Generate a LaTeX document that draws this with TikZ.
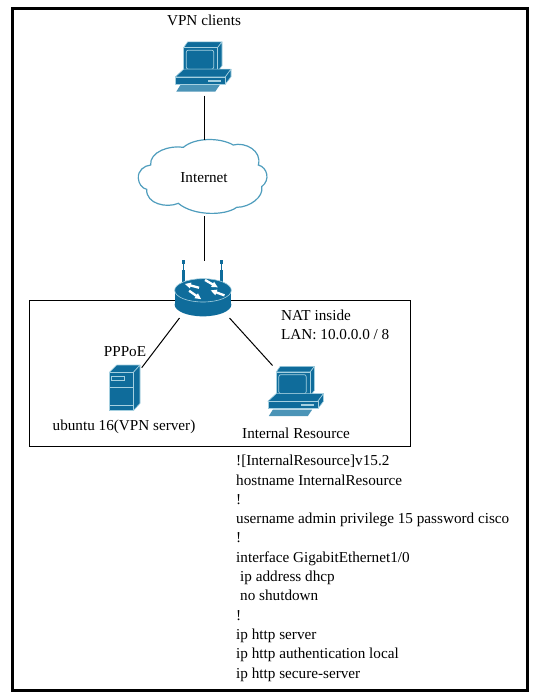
\documentclass[tikz,border=0pt]{standalone}
\usepackage{fontspec}
\setmainfont{Liberation Serif}
\definecolor{iconblue}{HTML}{0F6C9B}
\definecolor{iconlight}{HTML}{A5D0E0}
\definecolor{cloudline}{HTML}{4F9DBD}
\tikzset{
  iconbox/.style={inner sep=0pt,outer sep=0pt},
  lbl/.style={inner sep=0pt,font=\fontsize{15.2}{17}\selectfont},
  link/.style={black,line width=1pt},
  face/.style={fill=iconblue,draw=iconlight,line width=0.6pt,line join=round},
  computer/.pic={
    \begin{scope}[scale=1/3]
      \draw[face] (-58,-57)--(-46,-74)--(57,-74)--(44,-57)--cycle;
      \draw[face] (44,-57)--(57,-74)--(57,-2)--(44,15)--cycle;
      \draw[face] (-58,-57) rectangle (44,15);
      \draw[iconlight,line width=0.7pt,rounded corners=2pt] (-50,-49) rectangle (32,8);
      \draw[face] (-83,31)--(-58,8)--(84,8)--(67,31)--cycle;
      \draw[face] (67,31)--(84,8)--(84,31)--(67,53)--cycle;
      \draw[face] (-83,31) rectangle (67,53);
      \fill[iconlight] (15,40) rectangle (54,46);
      \fill[iconblue!60!iconlight] (-68,56)--(50,56)--(37,75)--(-80,75)--cycle;
    \end{scope}
  },
  server/.pic={
    \begin{scope}[scale=1/3]
      \draw[face] (-46,-46)--(-24,-68)--(46,-68)--(26,-46)--cycle;
      \draw[face] (26,-46)--(46,-68)--(46,47)--(26,69)--cycle;
      \draw[face] (-46,-46) rectangle (26,69);
      \draw[iconlight,line width=0.8pt] (-39,-35) rectangle (-1,-21);
      \draw[iconlight,line width=0.8pt] (-46,-1)--(26,-1);
      \draw[iconlight,line width=0.8pt] (-46,52)--(26,52);
    \end{scope}
  },
  router/.pic={
    \begin{scope}[scale=1/3]
      \foreach \ax in {-58,55}{
        \fill[iconblue] (\ax-4.5,-55) rectangle (\ax+4.5,-15);
        \fill[iconblue] (\ax-4.5,-85) rectangle (\ax+4.5,-72);
        \fill[iconblue] (\ax-2,-72) rectangle (\ax+2,-55);
      }
      \fill[iconblue] (-85,7) rectangle (85,50);
      \fill[iconblue] (0,50) ellipse[x radius=85,y radius=35];
      \draw[fill=iconblue,draw=iconlight,line width=0.6pt] (0,7) ellipse[x radius=85,y radius=35];
      \foreach \ang/\sx/\sy in {165/-35/-7,-30/27/-12,160/42/14,-35/-22/22}{
        \begin{scope}[shift={(\sx,\sy)},rotate=\ang]
          \fill[white] (-24,-3.5)--(2,-3.5)--(2,-9)--(20,0)--(2,9)--(2,3.5)--(-24,3.5)--cycle;
        \end{scope}
      }
    \end{scope}
  }
}
\begin{document}
\begin{tikzpicture}[x=1pt,y=-1pt]
  \useasboundingbox (0,0) rectangle (533,694);
  \draw[line width=3pt] (12,8) rectangle (527.5,690);
  \draw[line width=1pt] (29,300) rectangle (410,446);
  % icons
  \pic at (203,66.5) {computer};
  \node[iconbox,minimum width=57pt,minimum height=54pt] (clients) at (203,66.5) {};
  \pic at (203,288) {router};
  \node[iconbox,minimum width=57pt,minimum height=60pt] (gateway) at (203,288) {};
  \pic at (124.7,387.7) {server};
  \node[iconbox,minimum width=32pt,minimum height=46pt] (vpnserver) at (124.7,387.7) {};
  \pic at (295.5,391) {computer};
  \node[iconbox,minimum width=57pt,minimum height=51pt] (resource) at (295.5,391) {};
  % cloud
  \begin{scope}[shift={(130,130)},scale=1/3]
    \draw[cloudline,fill=white,line width=1.2pt]
      (25,145) .. controls (23,122) and (42,107) .. (62,105)
      .. controls (58,65) and (120,45) .. (160,52)
      .. controls (195,22) and (270,22) .. (310,45)
      .. controls (345,35) and (397,62) .. (385,105)
      .. controls (412,112) and (422,150) .. (395,170)
      .. controls (402,200) and (360,232) .. (320,232)
      .. controls (285,258) and (190,258) .. (145,220)
      .. controls (110,235) and (48,222) .. (50,178)
      .. controls (35,175) and (26,160) .. (25,145) -- cycle;
  \end{scope}
  \node[iconbox,lbl,minimum width=130pt,minimum height=76pt] (internet) at (204,178) {Internet};
  % links
  \draw[link] (clients.south)++(1,2) coordinate (clientsend) -- (internet.north -| clientsend);
  \draw[link] (internet.south -| clientsend) -- ([xshift=1pt,yshift=-3pt]gateway.north);
  \draw[link] ([xshift=5pt]gateway.south west) -- ([xshift=1pt,yshift=-3pt]vpnserver.north east);
  \draw[link] ([xshift=-2pt]gateway.south east) -- ([xshift=5.5pt]resource.north west);
  % labels
  \node[lbl] (clientstxt) at (204,20) {VPN clients};
  \node[lbl] (pppoe) at (125,352) {PPPoE};
  \node[lbl] (vpntxt) at (124,427) {ubuntu 16(VPN server)};
  \node[lbl,anchor=west] (nat) at (281,315) {NAT inside};
  \node[lbl,anchor=west] (lan) at (281,335) {LAN: 10.0.0.0 / 8};
  \node[lbl] (restxt) at (296,433) {Internal Resource};
  \node[lbl,anchor=north west,align=left,font=\fontsize{15.2}{19.3}\selectfont] (config) at (236,455) {![InternalResource]v15.2\\
    hostname InternalResource\\
    !\\
    username admin privilege 15 password cisco\\
    !\\
    interface GigabitEthernet1/0\\
    \hspace*{4pt}ip address dhcp\\
    \hspace*{4pt}no shutdown\\
    !\\
    ip http server\\
    ip http authentication local\\
    ip http secure-server};
\end{tikzpicture}
\end{document}
